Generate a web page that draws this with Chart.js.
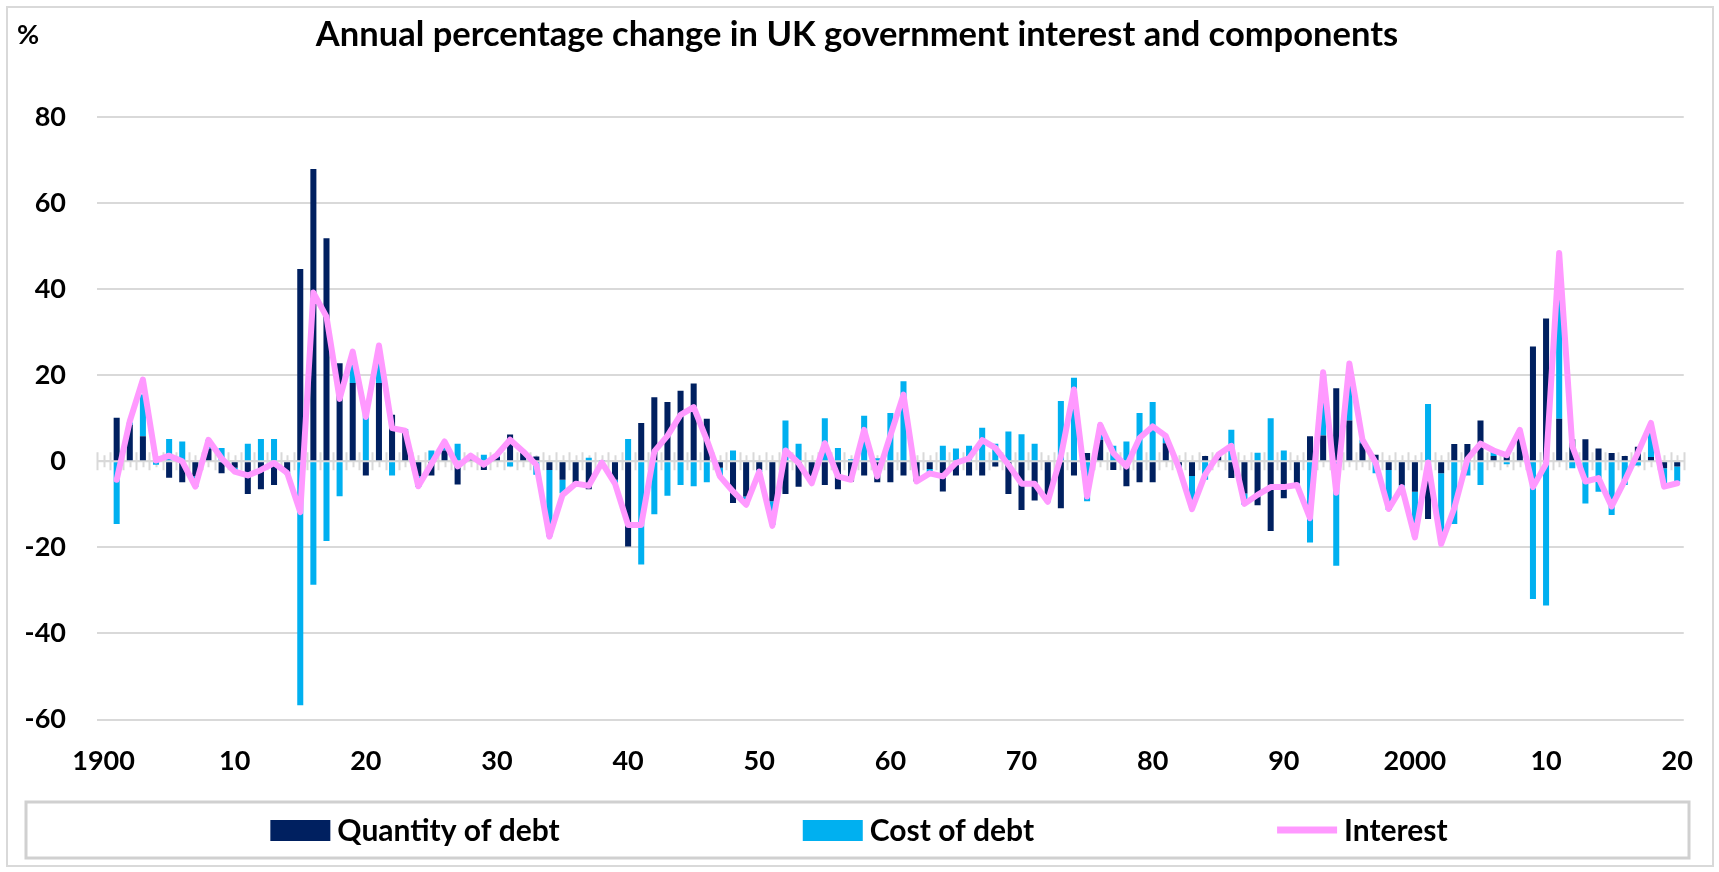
<!DOCTYPE html>
<html>
<head>
<meta charset="utf-8">
<title>UK government interest</title>
<script src="https://cdn.jsdelivr.net/npm/chart.js@4.4.1/dist/chart.umd.min.js"></script>
<style>
  html, body { margin: 0; padding: 0; background: #ffffff; overflow: hidden; }
  #wrap { position: relative; width: 1719px; height: 872px; }
  canvas { display: block; }
</style>
</head>
<body>
<div id="wrap"><canvas id="chart" width="1719" height="872"></canvas></div>
<script>
// Years on the category axis (1900 has no change figure)
const years = [
  1900,1901,1902,1903,1904,1905,1906,1907,1908,1909,
  1910,1911,1912,1913,1914,1915,1916,1917,1918,1919,
  1920,1921,1922,1923,1924,1925,1926,1927,1928,1929,
  1930,1931,1932,1933,1934,1935,1936,1937,1938,1939,
  1940,1941,1942,1943,1944,1945,1946,1947,1948,1949,
  1950,1951,1952,1953,1954,1955,1956,1957,1958,1959,
  1960,1961,1962,1963,1964,1965,1966,1967,1968,1969,
  1970,1971,1972,1973,1974,1975,1976,1977,1978,1979,
  1980,1981,1982,1983,1984,1985,1986,1987,1988,1989,
  1990,1991,1992,1993,1994,1995,1996,1997,1998,1999,
  2000,2001,2002,2003,2004,2005,2006,2007,2008,2009,
  2010,2011,2012,2013,2014,2015,2016,2017,2018,2019,
  2020
];

// Labels shown every tenth year
const tickLabels = ['1900','10','20','30','40','50','60','70','80','90','2000','10','20'];

// Contribution of the quantity of debt, % change
const quantityOfDebt = [
  null,10.1,8.5,5.8,1.0,-3.8,-4.9,-3.5,3.0,-2.8,
  -1.5,-7.6,-6.5,-5.5,-2.5,44.7,67.9,51.8,22.8,18.2,
  -3.3,18.2,10.8,7.0,-3.5,-3.3,2.5,-5.4,0.5,-2.0,
  1.0,6.2,2.0,1.1,-2.0,-4.3,-5.0,-6.5,-0.5,-4.3,
  -19.8,8.9,14.9,13.8,16.4,18.1,9.9,-1.5,-9.7,-8.2,
  -2.0,-9.3,-7.6,-5.9,-3.5,-5.5,-6.5,-4.7,-3.3,-4.9,
  -4.9,-3.3,-4.7,-1.8,-7.0,-3.3,-3.3,-3.3,-1.2,-7.6,
  -11.3,-9.1,-8.0,-10.9,-3.3,1.9,5.0,-2.0,-5.8,-4.9,
  -4.9,4.2,-1.0,-3.4,1.2,1.1,-3.9,-7.5,-10.2,-16.2,
  -8.6,-5.1,5.8,6.0,17.0,9.5,4.2,1.5,-2.0,-5.5,
  -7.1,-13.4,-2.8,4.0,4.0,9.5,1.2,2.0,6.0,26.7,
  33.2,9.9,5.1,5.1,3.0,1.9,1.2,3.4,1.0,-1.6,
  -1.2
];

// Contribution of the cost of debt, % change
const costOfDebt = [
  null,-14.6,0.5,9.7,-0.8,5.2,4.6,-2.5,2.0,3.1,
  -1.0,4.1,5.2,5.2,-0.5,-56.7,-28.7,-18.5,-8.1,6.0,
  11.3,5.5,-3.3,0.5,-2.5,2.5,2.0,4.1,0.8,1.5,
  0.5,-1.2,0.3,-3.1,-15.5,-3.1,-0.5,0.8,0.2,-1.0,
  5.2,-24.0,-12.3,-8.0,-5.5,-5.8,-4.9,-2.0,2.5,-2.0,
  -0.5,-5.5,9.5,4.1,-1.5,10.0,3.1,0.5,10.6,0.7,
  11.2,18.6,0.0,-1.0,3.6,3.0,3.6,7.8,4.1,6.9,
  6.3,4.1,-1.5,14.0,19.4,-9.3,3.5,3.6,4.6,11.2,
  13.8,1.7,-0.5,-7.5,-4.3,0.4,7.3,-2.6,2.0,10.0,
  2.5,-0.5,-18.9,14.0,-24.3,12.0,0.8,-2.8,-9.3,-0.5,
  -10.5,13.3,-16.0,-14.6,-3.3,-5.5,1.0,-0.7,1.2,-32.0,
  -33.5,34.0,-1.6,-9.8,-7.1,-12.5,-5.5,-1.0,7.5,-3.9,
  -3.5
];

// Total interest, % change
const interest = [
  null,-4.3,9.3,19.0,0.2,1.3,0.0,-5.9,5.0,0.7,
  -2.4,-3.3,-2.0,-0.4,-2.7,-11.8,39.2,33.6,14.5,25.5,
  10.3,26.9,7.7,7.1,-5.8,-0.6,4.6,-1.2,1.3,-0.8,
  1.5,5.0,2.3,-0.8,-17.5,-7.8,-5.2,-5.7,-0.3,-5.2,
  -14.8,-14.8,2.3,5.9,10.8,12.6,5.0,-3.5,-7.0,-10.1,
  -2.4,-15.0,2.5,-0.4,-5.1,4.2,-3.5,-4.3,7.3,-3.5,
  6.0,15.5,-4.7,-2.8,-3.5,-0.4,0.7,4.9,3.1,-0.8,
  -5.2,-5.2,-9.4,1.1,16.7,-8.2,8.5,1.9,-1.2,5.4,
  8.1,5.9,-1.5,-11.1,-3.1,1.5,3.6,-9.9,-7.8,-6.0,
  -6.0,-5.5,-13.2,20.7,-7.3,22.7,5.0,-0.3,-11.1,-6.0,
  -17.7,-0.3,-19.2,-10.9,0.5,4.1,2.5,1.4,7.3,-6.0,
  -0.6,48.4,3.5,-4.7,-3.9,-10.5,-4.5,2.0,8.9,-5.9,
  -5.1
];

const NAVY = '#002060';
const SKY = '#00B0F0';
const PINK = '#FF99FF';
const GRID = '#D9D9D9';
const FONT = 'Lato, "Open Sans", "DejaVu Sans", sans-serif';

// Frame, title, unit marker, boxed legend and the tick marks on the zero line
const decorations = {
  id: 'decorations',
  beforeDatasetsDraw(chart) {
    const x = chart.scales.x, y = chart.scales.y;
    const ctx = chart.ctx;
    const y0 = y.getPixelForValue(0);
    const n = chart.data.labels.length;
    const w = (x.right - x.left) / n;
    ctx.save();
    ctx.strokeStyle = GRID;
    ctx.lineWidth = 2;
    ctx.beginPath();
    ctx.moveTo(x.left, y0);
    ctx.lineTo(x.right, y0);
    for (let i = 0; i <= n; i++) {
      const xb = Math.round(x.left + i * w) + 0.5;
      ctx.moveTo(xb, y0 - 9);
      ctx.lineTo(xb, y0 + 9);
      if (i < n) {
        const xc = Math.round(x.getPixelForValue(i)) + 0.5;
        ctx.moveTo(xc, y0 - 6);
        ctx.lineTo(xc, y0 + 6);
      }
    }
    ctx.stroke();
    ctx.restore();
  },
  afterDraw(chart) {
    const ctx = chart.ctx;
    ctx.save();
    // outer frame
    ctx.strokeStyle = GRID;
    ctx.lineWidth = 2;
    ctx.strokeRect(7, 7, 1706, 859);

    // title and unit
    ctx.fillStyle = '#000';
    ctx.textBaseline = 'alphabetic';
    ctx.font = 'bold 34.5px ' + FONT;
    ctx.textAlign = 'center';
    ctx.fillText('Annual percentage change in UK government interest and components', 857, 46);
    ctx.font = 'bold 27px ' + FONT;
    ctx.textAlign = 'left';
    ctx.fillText('%', 17, 44);

    // legend box
    ctx.strokeStyle = '#D0D0D0';
    ctx.lineWidth = 3;
    ctx.strokeRect(26, 802, 1663, 56);

    const items = chart.data.datasets;
    ctx.font = 'bold 30px ' + FONT;
    const boxW = 60, gapText = 7, gapItem = 243;
    const widths = items.map(d => boxW + gapText + ctx.measureText(d.label).width);
    const total = widths.reduce((a, b) => a + b, 0) + gapItem * (items.length - 1);
    let cx = 859 - total / 2;
    const cy = 830;
    items.forEach((d, k) => {
      if (d.type === 'line') {
        ctx.strokeStyle = d.borderColor;
        ctx.lineWidth = 7;
        ctx.lineCap = 'butt';
        ctx.beginPath();
        ctx.moveTo(cx, cy);
        ctx.lineTo(cx + boxW, cy);
        ctx.stroke();
      } else {
        ctx.fillStyle = d.backgroundColor;
        ctx.fillRect(cx, cy - 10, boxW, 21);
      }
      ctx.fillStyle = '#000';
      ctx.textBaseline = 'middle';
      ctx.textAlign = 'left';
      ctx.fillText(d.label, cx + boxW + gapText, cy + 1);
      cx += widths[k] + gapItem;
    });
    ctx.restore();
  }
};

new Chart(document.getElementById('chart'), {
  type: 'bar',
  data: {
    labels: years,
    datasets: [
      {
        label: 'Quantity of debt',
        data: quantityOfDebt,
        backgroundColor: NAVY,
        stack: 'debt',
        order: 1
      },
      {
        label: 'Cost of debt',
        data: costOfDebt,
        backgroundColor: SKY,
        stack: 'debt',
        order: 1
      },
      {
        type: 'line',
        label: 'Interest',
        data: interest,
        borderColor: PINK,
        backgroundColor: PINK,
        borderWidth: 6,
        pointRadius: 0,
        tension: 0,
        borderJoinStyle: 'round',
        borderCapStyle: 'round',
        stack: 'interest',
        order: 0
      }
    ]
  },
  options: {
    responsive: false,
    animation: false,
    devicePixelRatio: 1,
    layout: { padding: { left: 0, right: 33, top: 117, bottom: 92.5 } },
    datasets: { bar: { categoryPercentage: 0.46, barPercentage: 1.0 } },
    plugins: {
      legend: { display: false },
      title: { display: false },
      tooltip: { enabled: false }
    },
    scales: {
      x: {
        stacked: true,
        grid: { display: false, drawTicks: false },
        border: { display: false },
        ticks: {
          autoSkip: false,
          maxRotation: 0,
          minRotation: 0,
          padding: 26,
          color: '#000',
          font: { family: FONT, size: 27, weight: 'bold' },
          callback: (value, index) => (index % 10 === 0 ? tickLabels[index / 10] : '')
        },
        afterFit: s => { s.height = 60; }
      },
      y: {
        stacked: true,
        min: -60,
        max: 80,
        grid: { color: GRID, lineWidth: 2, drawTicks: false },
        border: { display: false },
        ticks: {
          stepSize: 20,
          padding: 31,
          color: '#000',
          font: { family: FONT, size: 27, weight: 'bold' }
        },
        afterFit: s => { s.width = 97; }
      }
    }
  },
  plugins: [decorations]
});
</script>
</body>
</html>
